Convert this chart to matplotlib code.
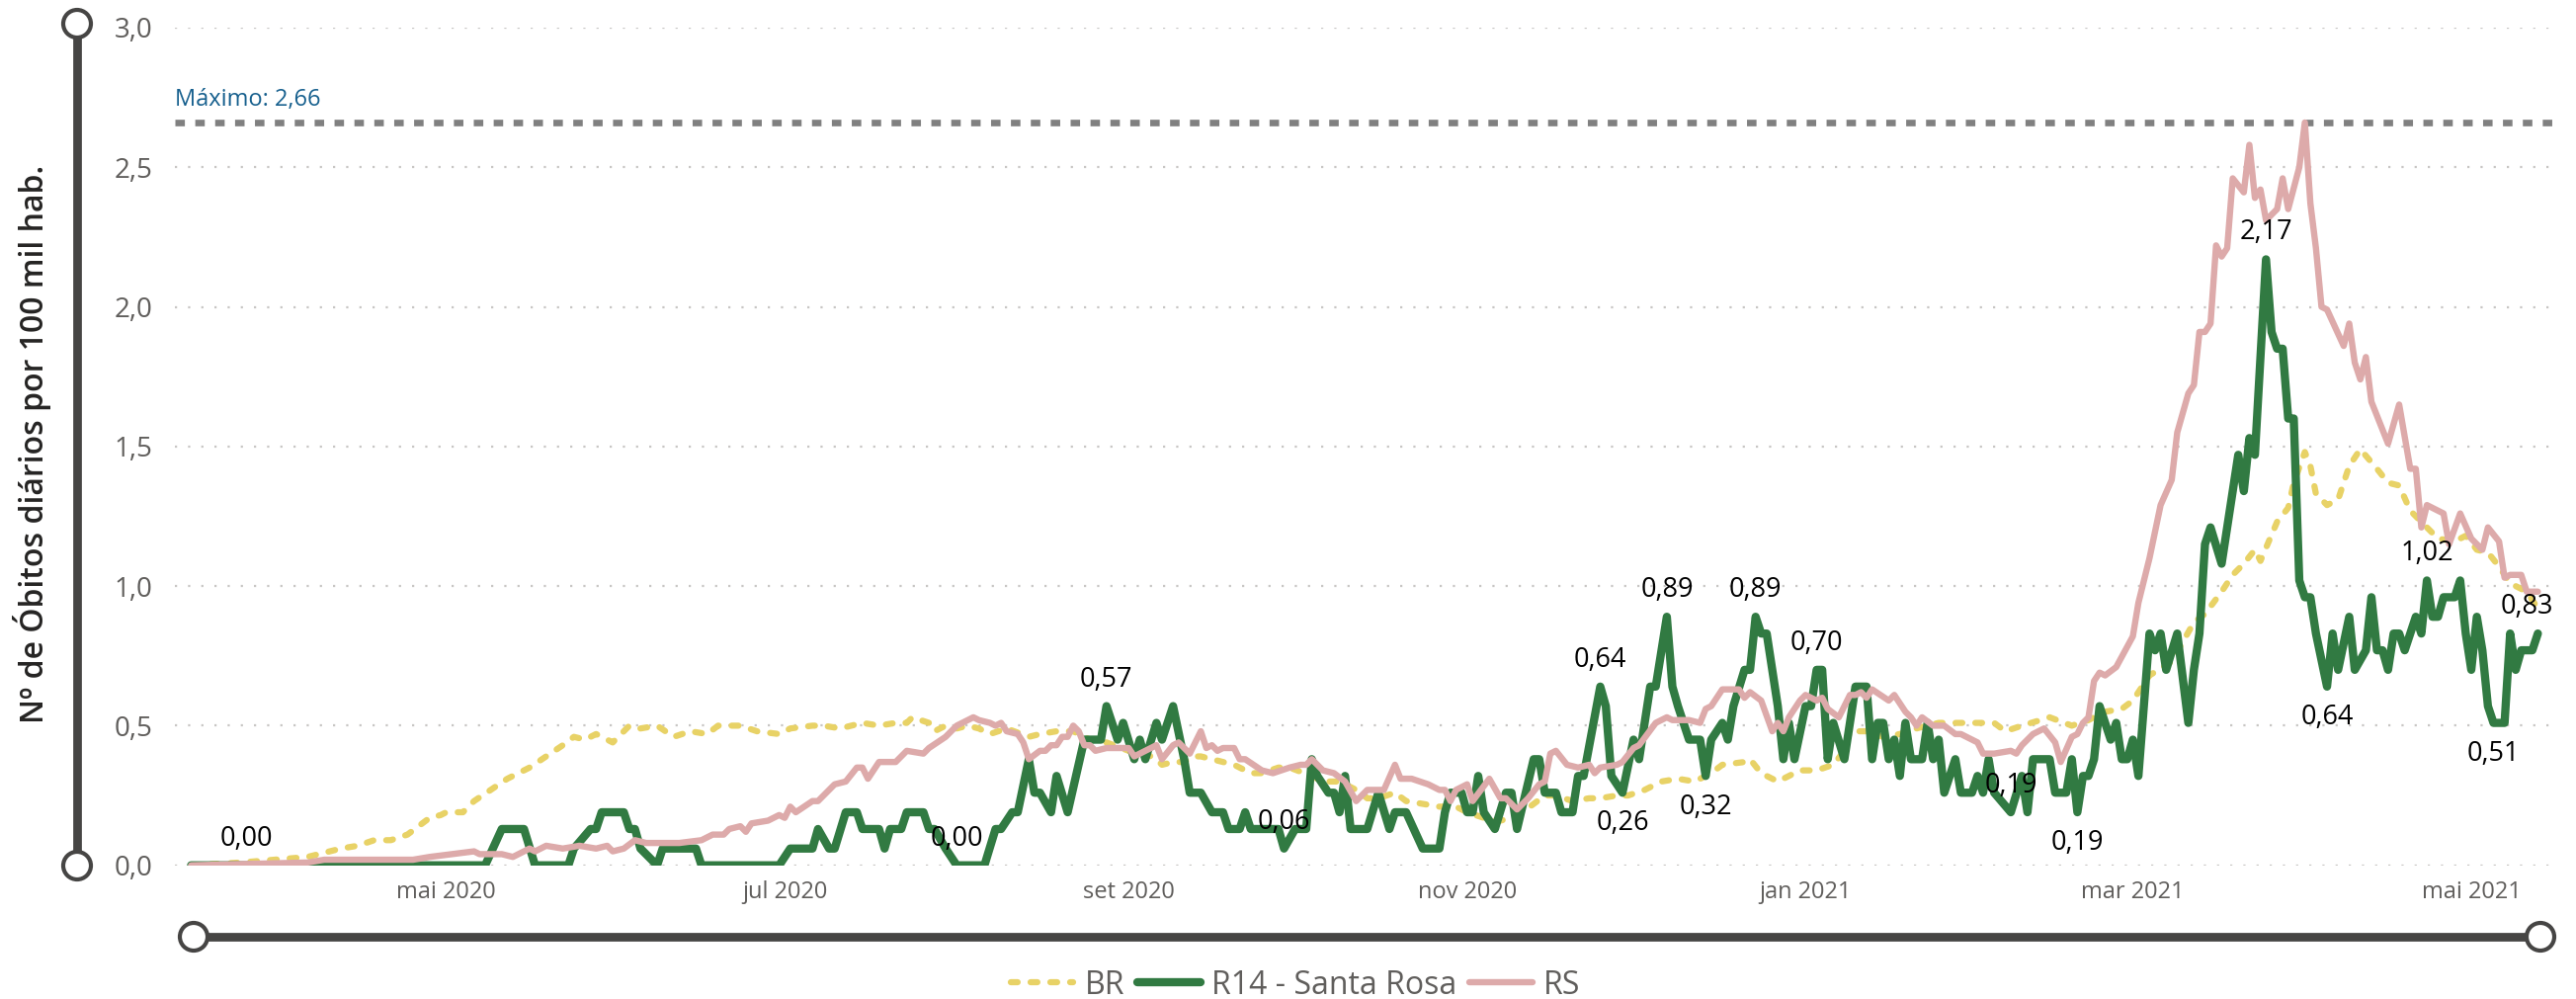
import matplotlib
matplotlib.use("Agg")
import matplotlib.pyplot as plt
import matplotlib.dates as mdates
from matplotlib.patches import Circle
import numpy as np
import pandas as pd

plt.rcParams['font.family'] = ['Open Sans', 'DejaVu Sans']

# Dados ------------------------------------------------------------------------
# dias contados a partir de 16/03/2020, obitos diarios por 100 mil hab.

inicio = pd.Timestamp('2020-03-16')

r14_dias = [0, 53, 56, 60, 62, 68, 69, 72, 73, 74, 78, 79, 80, 81, 84, 85, 91, 92,
            106, 108, 112, 113, 115, 116, 118, 120, 121, 124, 125, 126, 128, 129,
            132, 133, 134, 136, 138, 143, 145, 146, 148, 149, 151, 152, 153, 155,
            156, 158, 161, 164, 165, 167, 168, 170, 171, 172, 174, 175, 177, 179,
            180, 182, 184, 186, 187, 189, 190, 191, 196, 197, 199, 201, 202, 203,
            205, 206, 207, 208, 209, 212, 214, 216, 217, 219, 222, 225, 226, 227,
            229, 230, 231, 232, 233, 235, 237, 238, 239, 242, 243, 244, 246, 247,
            249, 250, 251, 254, 255, 256, 258, 260, 261, 263, 264, 266, 267, 268,
            270, 272, 273, 274, 276, 277, 278, 280, 281, 282, 283, 284, 285, 286,
            287, 288, 289, 291, 292, 293, 294, 295, 296, 298, 299, 300, 302, 303,
            304, 305, 306, 307, 308, 309, 310, 312, 313, 314, 315, 316, 317, 318,
            319, 321, 322, 323, 324, 325, 328, 330, 331, 332, 335, 336, 338, 339,
            340, 341, 342, 343, 344, 346, 347, 348, 349, 350, 351, 353, 354, 355,
            356, 358, 360, 361, 362, 363, 364, 366, 367, 369, 370, 371, 372, 374,
            375, 376, 377, 378, 379, 380, 381, 382, 383, 385, 386, 387, 389, 390,
            392, 393, 394, 395, 396, 397, 398, 399, 401, 402, 403, 404, 405, 406,
            408, 409, 410, 411, 412, 413, 414, 415, 417, 418, 419, 420, 422, 423]
r14_vals = [0.00, 0.00, 0.13, 0.13, 0.00, 0.00, 0.06, 0.13, 0.13, 0.19, 0.19, 0.13,
            0.13, 0.06, 0.00, 0.06, 0.06, 0.00, 0.00, 0.06, 0.06, 0.13, 0.06, 0.06,
            0.19, 0.19, 0.13, 0.13, 0.06, 0.13, 0.13, 0.19, 0.19, 0.13, 0.13, 0.06,
            0.00, 0.00, 0.13, 0.13, 0.19, 0.19, 0.38, 0.26, 0.26, 0.19, 0.32, 0.19,
            0.45, 0.45, 0.57, 0.45, 0.51, 0.38, 0.45, 0.38, 0.51, 0.45, 0.57, 0.38,
            0.26, 0.26, 0.19, 0.19, 0.13, 0.13, 0.19, 0.13, 0.13, 0.06, 0.13, 0.13,
            0.38, 0.32, 0.26, 0.26, 0.19, 0.32, 0.13, 0.13, 0.26, 0.13, 0.19, 0.19,
            0.06, 0.06, 0.19, 0.26, 0.26, 0.19, 0.19, 0.32, 0.19, 0.13, 0.26, 0.26,
            0.13, 0.38, 0.38, 0.26, 0.26, 0.19, 0.19, 0.32, 0.32, 0.64, 0.57, 0.32,
            0.26, 0.45, 0.38, 0.64, 0.64, 0.89, 0.64, 0.57, 0.45, 0.45, 0.32, 0.45,
            0.51, 0.45, 0.57, 0.70, 0.70, 0.89, 0.83, 0.83, 0.70, 0.57, 0.38, 0.51,
            0.38, 0.57, 0.57, 0.70, 0.70, 0.38, 0.51, 0.38, 0.51, 0.64, 0.64, 0.38,
            0.51, 0.51, 0.38, 0.45, 0.32, 0.51, 0.38, 0.38, 0.51, 0.38, 0.45, 0.26,
            0.32, 0.38, 0.26, 0.26, 0.32, 0.26, 0.38, 0.26, 0.19, 0.32, 0.19, 0.38,
            0.38, 0.26, 0.26, 0.38, 0.19, 0.32, 0.32, 0.38, 0.57, 0.45, 0.51, 0.38,
            0.38, 0.45, 0.32, 0.83, 0.77, 0.83, 0.70, 0.83, 0.51, 0.70, 0.83, 1.15,
            1.21, 1.08, 1.21, 1.47, 1.34, 1.53, 1.47, 2.17, 1.91, 1.85, 1.85, 1.60,
            1.60, 1.02, 0.96, 0.96, 0.83, 0.64, 0.83, 0.70, 0.89, 0.70, 0.77, 0.96,
            0.77, 0.77, 0.70, 0.83, 0.83, 0.77, 0.89, 0.83, 1.02, 0.89, 0.89, 0.96,
            0.96, 1.02, 0.83, 0.70, 0.89, 0.77, 0.57, 0.51, 0.51, 0.83, 0.70, 0.77,
            0.77, 0.83]

rs_dias = [0, 21, 24, 40, 43, 51, 52, 56, 58, 60, 61, 62, 64, 67, 70, 73, 75, 76,
           78, 80, 82, 84, 88, 92, 94, 96, 97, 99, 100, 101, 104, 106, 107, 108,
           109, 112, 113, 116, 118, 120, 121, 122, 124, 127, 129, 132, 133, 136,
           138, 139, 141, 142, 144, 145, 146, 147, 149, 150, 151, 153, 154, 155,
           156, 157, 158, 159, 160, 161, 162, 163, 165, 168, 169, 170, 172, 174,
           175, 177, 178, 180, 182, 183, 184, 185, 186, 188, 189, 190, 193, 195,
           198, 200, 201, 202, 204, 206, 208, 210, 212, 215, 217, 218, 220, 223,
           225, 226, 227, 228, 230, 231, 234, 236, 237, 239, 241, 243, 244, 245,
           246, 248, 250, 252, 253, 254, 257, 258, 260, 261, 264, 266, 267, 269,
           270, 272, 273, 274, 276, 279, 280, 281, 283, 285, 286, 287, 288, 290,
           291, 293, 294, 295, 297, 299, 300, 301, 302, 303, 306, 307, 309, 310,
           311, 312, 314, 316, 318, 319, 322, 323, 325, 328, 329, 330, 332, 334,
           336, 337, 339, 340, 341, 342, 343, 344, 345, 347, 350, 351, 353, 355,
           357, 358, 360, 361, 362, 363, 364, 365, 366, 367, 368, 370, 371, 372,
           373, 374, 376, 377, 378, 380, 381, 382, 383, 384, 385, 388, 389, 390,
           391, 392, 393, 396, 398, 400, 401, 402, 403, 406, 407, 409, 411, 413,
           414, 416, 417, 418, 420, 421, 423]
rs_vals = [0.00, 0.01, 0.02, 0.02, 0.03, 0.05, 0.04, 0.04, 0.03, 0.05, 0.06, 0.05,
           0.07, 0.06, 0.07, 0.06, 0.07, 0.05, 0.06, 0.09, 0.08, 0.08, 0.08, 0.09,
           0.11, 0.11, 0.13, 0.14, 0.12, 0.15, 0.16, 0.18, 0.17, 0.21, 0.19, 0.23,
           0.23, 0.29, 0.30, 0.35, 0.35, 0.31, 0.37, 0.37, 0.41, 0.40, 0.42, 0.46,
           0.50, 0.51, 0.53, 0.52, 0.51, 0.50, 0.51, 0.48, 0.47, 0.44, 0.38, 0.41,
           0.41, 0.43, 0.43, 0.46, 0.46, 0.50, 0.48, 0.43, 0.43, 0.41, 0.42, 0.42,
           0.42, 0.39, 0.41, 0.43, 0.38, 0.43, 0.44, 0.40, 0.48, 0.42, 0.43, 0.41,
           0.42, 0.42, 0.38, 0.38, 0.34, 0.33, 0.35, 0.36, 0.36, 0.38, 0.34, 0.33,
           0.30, 0.23, 0.27, 0.27, 0.36, 0.31, 0.31, 0.29, 0.27, 0.27, 0.23, 0.27,
           0.29, 0.23, 0.31, 0.24, 0.24, 0.20, 0.24, 0.29, 0.30, 0.40, 0.41, 0.36,
           0.35, 0.36, 0.33, 0.35, 0.36, 0.37, 0.42, 0.43, 0.51, 0.53, 0.52, 0.52,
           0.52, 0.51, 0.56, 0.57, 0.63, 0.63, 0.60, 0.62, 0.59, 0.48, 0.51, 0.48,
           0.53, 0.59, 0.61, 0.59, 0.60, 0.56, 0.53, 0.61, 0.61, 0.62, 0.60, 0.63,
           0.59, 0.61, 0.55, 0.53, 0.50, 0.53, 0.50, 0.50, 0.47, 0.47, 0.44, 0.40,
           0.40, 0.41, 0.40, 0.43, 0.47, 0.49, 0.44, 0.37, 0.46, 0.47, 0.51, 0.53,
           0.66, 0.69, 0.68, 0.71, 0.82, 0.94, 1.10, 1.29, 1.38, 1.55, 1.69, 1.72,
           1.91, 1.91, 1.94, 2.22, 2.18, 2.21, 2.46, 2.41, 2.58, 2.39, 2.42, 2.31,
           2.35, 2.46, 2.35, 2.50, 2.66, 2.37, 2.21, 2.00, 1.99, 1.86, 1.94, 1.80,
           1.74, 1.82, 1.66, 1.51, 1.65, 1.42, 1.42, 1.21, 1.29, 1.26, 1.15, 1.26,
           1.17, 1.13, 1.21, 1.16, 1.03, 1.04, 1.04, 0.98, 0.98]

br_dias = [0, 9, 15, 21, 23, 27, 30, 33, 36, 39, 41, 43, 45, 46, 49, 51, 54, 57,
           60, 61, 64, 67, 69, 71, 73, 76, 79, 81, 84, 87, 90, 93, 95, 99, 102,
           106, 108, 112, 114, 117, 121, 124, 127, 129, 130, 133, 134, 136, 138,
           140, 142, 144, 147, 151, 153, 156, 159, 162, 165, 169, 172, 174, 175,
           177, 179, 181, 182, 184, 188, 191, 193, 196, 198, 202, 204, 207, 210,
           212, 214, 217, 219, 222, 225, 228, 230, 233, 236, 238, 240, 242, 244,
           246, 249, 252, 254, 257, 259, 262, 265, 268, 271, 274, 276, 280, 281,
           283, 286, 288, 290, 293, 296, 298, 299, 302, 305, 308, 311, 315, 318,
           321, 325, 327, 330, 335, 339, 342, 345, 348, 350, 353, 357, 359, 361,
           363, 366, 368, 370, 372, 373, 376, 378, 379, 381, 382, 383, 385, 387,
           389, 391, 394, 396, 398, 400, 403, 405, 408, 410, 412, 414, 416, 418,
           421, 423]
br_vals = [0.00, 0.01, 0.02, 0.03, 0.04, 0.06, 0.07, 0.09, 0.09, 0.11, 0.14, 0.17,
           0.18, 0.19, 0.19, 0.23, 0.27, 0.31, 0.34, 0.35, 0.39, 0.43, 0.46, 0.45,
           0.47, 0.44, 0.50, 0.49, 0.50, 0.46, 0.48, 0.47, 0.50, 0.50, 0.48, 0.47,
           0.49, 0.50, 0.50, 0.49, 0.51, 0.50, 0.51, 0.51, 0.53, 0.51, 0.48, 0.50,
           0.49, 0.50, 0.49, 0.47, 0.49, 0.46, 0.47, 0.48, 0.48, 0.45, 0.44, 0.41,
           0.40, 0.38, 0.36, 0.37, 0.37, 0.39, 0.39, 0.38, 0.36, 0.33, 0.33, 0.35,
           0.35, 0.32, 0.30, 0.30, 0.27, 0.24, 0.24, 0.26, 0.23, 0.22, 0.21, 0.21,
           0.19, 0.17, 0.16, 0.17, 0.19, 0.22, 0.25, 0.25, 0.23, 0.24, 0.24, 0.25,
           0.25, 0.27, 0.30, 0.31, 0.30, 0.33, 0.36, 0.37, 0.38, 0.33, 0.30, 0.32,
           0.34, 0.34, 0.36, 0.41, 0.48, 0.48, 0.46, 0.47, 0.49, 0.51, 0.51, 0.51,
           0.51, 0.48, 0.50, 0.53, 0.50, 0.52, 0.55, 0.56, 0.59, 0.68, 0.73, 0.80,
           0.87, 0.90, 0.98, 1.04, 1.08, 1.13, 1.09, 1.23, 1.28, 1.37, 1.48, 1.43,
           1.33, 1.29, 1.31, 1.43, 1.49, 1.42, 1.37, 1.36, 1.27, 1.21, 1.17, 1.16,
           1.18, 1.13, 1.12, 1.07, 1.01, 0.98, 0.92]

# rotulos de dados da serie R14 (dia, valor, posicao)
rot_dias = [10, 138, 165, 197, 254, 258, 266, 273, 282, 293, 328, 340, 374, 385,
            403, 415, 421]
rot_vals = [0.00, 0.00, 0.57, 0.06, 0.64, 0.26, 0.89, 0.32, 0.89, 0.70, 0.19, 0.19,
            2.17, 0.64, 1.02, 0.51, 0.83]
rot_pos = ['a', 'a', 'a', 'a', 'a', 'b', 'a', 'b', 'a', 'a', 'a', 'b', 'a', 'b',
           'a', 'b', 'a']

meses = ['jan', 'fev', 'mar', 'abr', 'mai', 'jun', 'jul', 'ago', 'set', 'out',
         'nov', 'dez']


def datas(dias):
    return inicio + pd.to_timedelta(dias, unit='D')


def virgula(v, casas):
    return f"{v:.{casas}f}".replace('.', ',')


# Figura -----------------------------------------------------------------------
W, H = 2607, 1011
fig = plt.figure(figsize=(W / 100, H / 100), dpi=100)

cinza_eixo = '#464544'
deco = fig.add_axes([0, 0, 1, 1])
deco.set_xlim(0, W)
deco.set_ylim(H, 0)
deco.axis('off')

# barras de rolagem (slicers) do Power BI
deco.plot([78, 78], [24, 876], color=cinza_eixo, lw=6.3, solid_capstyle='butt')
deco.plot([196, 2571], [948, 948], color=cinza_eixo, lw=6.3, solid_capstyle='butt')
for cx, cy in [(78, 24), (78, 876), (196, 948), (2571, 948)]:
    deco.add_patch(Circle((cx, cy), 14, facecolor='white', edgecolor=cinza_eixo,
                          lw=3.0, zorder=5))

ax = fig.add_axes([177 / W, (H - 875.7) / H, (2583 - 177) / W, (875.7 - 27.9) / H])
ax.patch.set_visible(False)

ax.plot(datas(br_dias), br_vals, color='#E8D266', lw=4.5,
        linestyle=(0, (1.1, 2.1)), dash_capstyle='round', dash_joinstyle='round',
        label='BR', zorder=3)
ax.plot(datas(r14_dias), r14_vals, color='#317A42', lw=6.0,
        solid_joinstyle='round', solid_capstyle='round',
        label='R14 - Santa Rosa', zorder=4)
ax.plot(datas(rs_dias), rs_vals, color='#DDAAAA', lw=4.6,
        solid_joinstyle='round', solid_capstyle='round', label='RS', zorder=5)

# linha de maximo
maximo = max(rs_vals)
ax.axhline(maximo, color='#808080', lw=4.8, linestyle=(0, (1.44, 1.58)),
           dash_capstyle='butt', zorder=2)
ax.annotate('Máximo: ' + virgula(maximo, 2), xy=(0, maximo),
            xycoords=('axes fraction', 'data'), xytext=(0, 12),
            textcoords='offset points', ha='left', va='baseline',
            fontsize=17, color='#17608E')

# rotulos de dados
for d, v, p in zip(rot_dias, rot_vals, rot_pos):
    dy = 19.5 if p == 'a' else -22.5
    ax.annotate(virgula(v, 2), xy=(datas(d), v), xytext=(0, dy),
                textcoords='offset points', ha='center', va='center',
                fontsize=19.5, color='black', zorder=6)

ax.set_ylim(0, 3)
ax.set_xlim(datas(-2.92), datas(425.6))
ax.set_yticks(np.arange(0, 3.01, 0.5))
ax.yaxis.set_major_formatter(plt.FuncFormatter(lambda v, p: virgula(v, 1)))
ax.xaxis.set_major_locator(mdates.MonthLocator(bymonth=[1, 3, 5, 7, 9, 11]))
ax.xaxis.set_major_formatter(plt.FuncFormatter(
    lambda x, p: f"{meses[mdates.num2date(x).month - 1]} {mdates.num2date(x).year}"))

ax.grid(axis='y', color='#C8C6C4', linestyle=(0, (1, 5)), lw=1.6)
ax.set_axisbelow(True)
for s in ax.spines.values():
    s.set_visible(False)
ax.tick_params(axis='y', length=0, pad=16, labelsize=20, labelcolor='#605E5C')
ax.tick_params(axis='x', length=0, pad=11, labelsize=17, labelcolor='#605E5C')

fig.text(33 / W, 1 - 449 / H, 'Nº de Óbitos diários por 100 mil hab.',
         rotation=90, ha='center', va='center', fontsize=23,
         color='#252423', fontweight='semibold')

fig.legend(*ax.get_legend_handles_labels(), loc='center',
           bbox_to_anchor=(1311 / W, 14 / H), ncol=3, frameon=False,
           fontsize=23, handlelength=2.0, handletextpad=0.35,
           columnspacing=0.4, labelcolor='#605E5C')

fig.savefig('out.png', dpi=100)
